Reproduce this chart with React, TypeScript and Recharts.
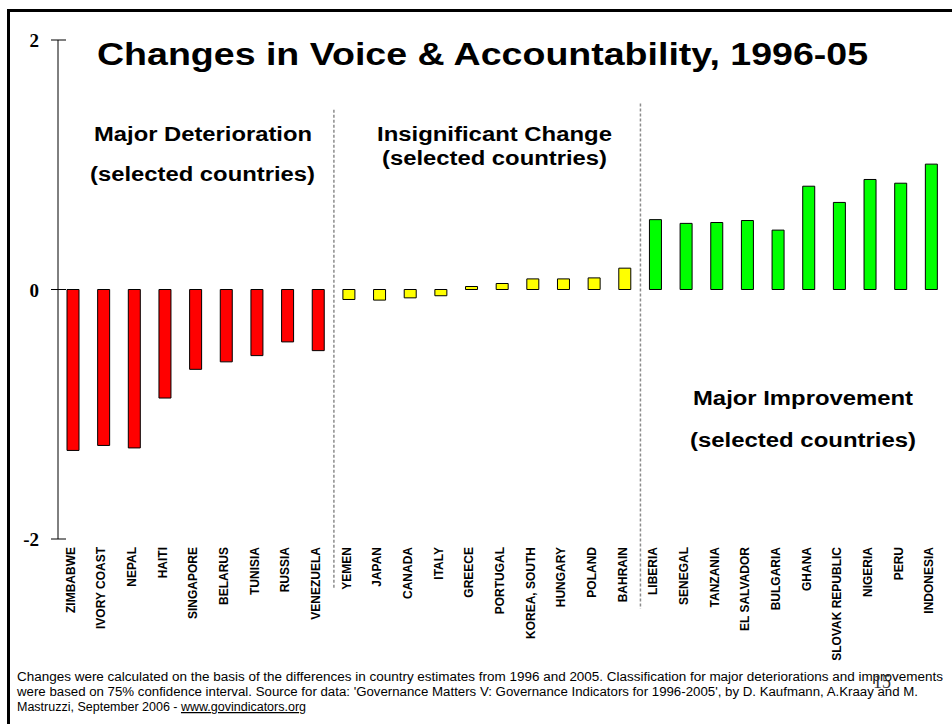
import React from 'react';
import { BarChart, Bar, XAxis, YAxis, Cell, ReferenceLine } from 'recharts';

const countries = [
  'ZIMBABWE', 'IVORY COAST', 'NEPAL', 'HAITI', 'SINGAPORE', 'BELARUS', 'TUNISIA', 'RUSSIA', 'VENEZUELA',
  'YEMEN', 'JAPAN', 'CANADA', 'ITALY', 'GREECE', 'PORTUGAL', 'KOREA, SOUTH', 'HUNGARY', 'POLAND', 'BAHRAIN',
  'LIBERIA', 'SENEGAL', 'TANZANIA', 'EL SALVADOR', 'BULGARIA', 'GHANA', 'SLOVAK REPUBLIC', 'NIGERIA', 'PERU', 'INDONESIA',
];
const changes = [
  -1.29, -1.25, -1.27, -0.87, -0.64, -0.58, -0.53, -0.42, -0.49,
  -0.08, -0.085, -0.067, -0.05, 0.024, 0.048, 0.085, 0.085, 0.093, 0.171,
  0.56, 0.53, 0.537, 0.553, 0.476, 0.828, 0.698, 0.882, 0.852, 1.005,
];
const groups = [
  'D', 'D', 'D', 'D', 'D', 'D', 'D', 'D', 'D',
  'I', 'I', 'I', 'I', 'I', 'I', 'I', 'I', 'I', 'I',
  'M', 'M', 'M', 'M', 'M', 'M', 'M', 'M', 'M', 'M',
];
const groupColors: Record<string, string> = { D: '#ff0000', I: '#ffff00', M: '#00ff00' };
const yTicks = [-2, 0, 2];
const separators = [
  { after: 'VENEZUELA', top: 1.44, bottom: -2.4 },
  { after: 'BAHRAIN', top: 1.49, bottom: -2.56 },
];

const data = countries.map((c, i) => ({ country: c, change: changes[i], group: groups[i] }));

const sansFont = "'Liberation Sans', Arial, sans-serif";
const serifFont = "'Liberation Serif', 'Times New Roman', serif";

const XTick = (props: any) => {
  const { x, y, payload } = props;
  return (
    <text
      transform={`translate(${x + 1.5},${y + 8}) rotate(-90)`}
      textAnchor="end"
      fontFamily={sansFont}
      fontWeight={700}
      fontSize={12}
      fill="#000"
    >
      {payload.value}
    </text>
  );
};

const YTick = (props: any) => {
  const { x, y, payload } = props;
  return (
    <g>
      <line x1={x - 7} x2={x + 8} y1={y} y2={y} stroke="#000" strokeWidth={1} />
      <text
        x={x - 19}
        y={y + 7}
        textAnchor="end"
        fontFamily={serifFont}
        fontWeight={700}
        fontSize={19}
        fill="#000"
      >
        {payload.value}
      </text>
    </g>
  );
};

export default function App() {
  return (
    <div style={{ position: 'absolute', left: 0, top: 0, width: 952, height: 724, overflow: 'hidden', background: '#fff' }}>
      <div
        style={{
          position: 'absolute', left: 7, top: 9, width: 2000, height: 2000,
          borderTop: '3px solid #000', borderLeft: '3px solid #000',
        }}
      />
      <div style={{ position: 'absolute', left: 0, top: 0 }}>
        <BarChart
          width={952}
          height={724}
          data={data}
          margin={{ top: 40, right: 5, left: 0, bottom: 0 }}
          barCategoryGap={0}
        >
          <XAxis
            dataKey="country"
            height={185}
            axisLine={false}
            tickLine={false}
            interval={0}
            tickSize={0}
            tickMargin={0}
            tick={<XTick />}
          />
          <YAxis
            domain={[-2, 2]}
            ticks={yTicks}
            width={58}
            axisLine={{ stroke: '#000', strokeWidth: 1 }}
            tickLine={false}
            tickSize={0}
            tickMargin={0}
            tick={<YTick />}
            allowDataOverflow
          />
          {separators.map((s) => (
            <ReferenceLine
              key={s.after}
              segment={[{ x: s.after, y: s.top }, { x: s.after, y: s.bottom }]}
              position="end"
              ifOverflow="visible"
              stroke="#8c8c8c"
              strokeWidth={1.5}
              strokeDasharray="3 2"
            />
          ))}
          <Bar dataKey="change" barSize={12} stroke="#000" strokeWidth={1} isAnimationActive={false}>
            {data.map((d) => (
              <Cell key={d.country} fill={groupColors[d.group]} />
            ))}
          </Bar>
        </BarChart>
      </div>
      <svg width={952} height={724} style={{ position: 'absolute', left: 0, top: 0, pointerEvents: 'none' }}>
        <text x={97} y={65} fontFamily={sansFont} fontWeight={700} fontSize={32} textLength={771} lengthAdjust="spacingAndGlyphs" fill="#000">
          Changes in Voice &amp; Accountability, 1996-05
        </text>
        <text x={94} y={141} fontFamily={sansFont} fontWeight={700} fontSize={20} textLength={218} lengthAdjust="spacingAndGlyphs" fill="#000">
          Major Deterioration
        </text>
        <text x={90} y={181} fontFamily={sansFont} fontWeight={700} fontSize={20} textLength={225} lengthAdjust="spacingAndGlyphs" fill="#000">
          (selected countries)
        </text>
        <text x={377} y={141} fontFamily={sansFont} fontWeight={700} fontSize={20} textLength={235} lengthAdjust="spacingAndGlyphs" fill="#000">
          Insignificant Change
        </text>
        <text x={382} y={165} fontFamily={sansFont} fontWeight={700} fontSize={20} textLength={225} lengthAdjust="spacingAndGlyphs" fill="#000">
          (selected countries)
        </text>
        <text x={693} y={405} fontFamily={sansFont} fontWeight={700} fontSize={20} textLength={220} lengthAdjust="spacingAndGlyphs" fill="#000">
          Major Improvement
        </text>
        <text x={690} y={447} fontFamily={sansFont} fontWeight={700} fontSize={20} textLength={226} lengthAdjust="spacingAndGlyphs" fill="#000">
          (selected countries)
        </text>
        <text x={17} y={681} fontFamily={sansFont} fontSize={12.5} textLength={926} lengthAdjust="spacingAndGlyphs" fill="#000">
          Changes were calculated on the basis of the differences in country estimates from 1996 and 2005. Classification for major deteriorations and improvements
        </text>
        <text x={17} y={696} fontFamily={sansFont} fontSize={12.5} textLength={901} lengthAdjust="spacingAndGlyphs" fill="#000">
          were based on 75% confidence interval. Source for data: 'Governance Matters V: Governance Indicators for 1996-2005', by D. Kaufmann, A.Kraay and M.
        </text>
        <text x={17} y={711} fontFamily={sansFont} fontSize={12.5} fill="#000">
          Mastruzzi, September 2006 - <tspan style={{ textDecoration: 'underline' }}>www.govindicators.org</tspan>
        </text>
        <text x={873} y={688} fontFamily={serifFont} fontSize={18} fill="#333">
          15
        </text>
      </svg>
    </div>
  );
}
